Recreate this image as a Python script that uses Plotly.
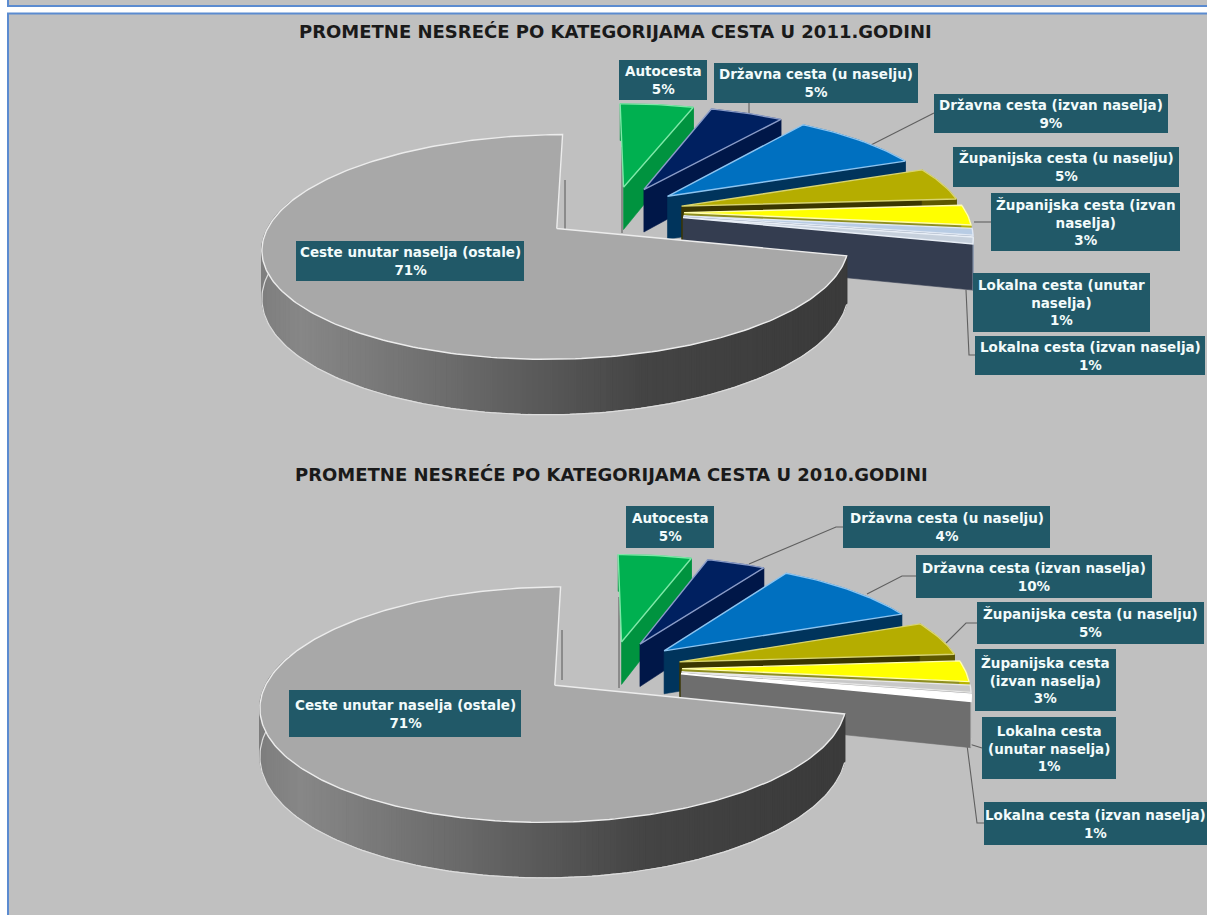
import math
import plotly.graph_objects as go

# Road categories, in drawing order round the pie
CATEGORIES = [
    "Autocesta",
    "Državna cesta (u naselju)",
    "Državna cesta (izvan naselja)",
    "Županijska cesta (u naselju)",
    "Županijska cesta (izvan naselja)",
    "Lokalna cesta (unutar naselja)",
    "Lokalna cesta (izvan naselja)",
    "Ceste unutar naselja (ostale)",
]
VALUES_2011 = [5, 5, 9, 5, 3, 1, 1, 71]
VALUES_2010 = [5, 4, 10, 5, 3, 1, 1, 71]
TITLE_2011 = "PROMETNE NESREĆE PO KATEGORIJAMA CESTA U 2011.GODINI"
TITLE_2010 = "PROMETNE NESREĆE PO KATEGORIJAMA CESTA U 2010.GODINI"

W, H = 1207, 915
BG = "#c0c0c0"
FRAME = "#5b8bd0"
BOX = "#215968"

TOP_2011 = ["#00b050", "#002060", "#0070c0", "#b5ad00", "#ffff00", "#b8cce4", "#c6d0dc", "#a8a8a8"]
WALL_2011 = ["#00933f", "#001748", "#00345c", "#3a3600", "#8f8f20", "#8a98ac", "#343d50", "#444444"]
RIM_2011 = ["#00933f", "#001748", "#00345c", "#5e5800", "#b8b400", "#9aa8bc", "#9aa8bc", "#444444"]
EDGE_2011 = ["#7ee8a8", "#8a9cc8", "#8cc4f0", "#d8d470", "#fffdb0", "#e0e8f4", "#e8eef6", "#ececec"]

TOP_2010 = ["#00b050", "#002060", "#0070c0", "#b5ad00", "#ffff00", "#c8c8c8", "#ffffff", "#a8a8a8"]
WALL_2010 = ["#00933f", "#001748", "#00345c", "#3a3600", "#8f8f20", "#a0a0a0", "#6e6e6e", "#444444"]
RIM_2010 = ["#00933f", "#001748", "#00345c", "#5e5800", "#b8b400", "#b0b0b0", "#d0d0d0", "#444444"]
EDGE_2010 = ["#7ee8a8", "#8a9cc8", "#8cc4f0", "#d8d470", "#fffdb0", "#e8e8e8", "#ffffff", "#ececec"]

# Projection of each pie: centre, radii, wall height, explode fraction, perspective
VIEW_2011 = dict(cx=613.5, cy=212, rx=282, ry=104, wall=44, explode=0.25, persp=0.16)
VIEW_2010 = dict(cx=611.5, cy=668, rx=282, ry=109, wall=44, explode=0.25, persp=0.16)
START_ANGLE = -0.5

# Label boxes: left, right, top, bottom
BOXES_2011 = [
    (619, 707, 60, 100), (714, 918, 63, 103), (934, 1168, 94, 133), (953, 1179, 147, 187),
    (991, 1180, 193, 251), (973, 1150, 273, 332), (975, 1205, 336, 375), (296, 524, 241, 281),
]
BOXES_2010 = [
    (626, 714, 506, 548), (843, 1050, 506, 548), (916, 1152, 555, 598), (977, 1204, 602, 644),
    (975, 1116, 649, 711), (982, 1116, 717, 779), (984, 1207, 802, 845), (289, 521, 690, 737),
]
LINES_2011 = [
    ["Državna cesta (u naselju)", ""],
    ["Državna cesta (izvan naselja)", ""],
    ["Županijska cesta (u naselju)", ""],
    ["Županijska cesta (izvan", "naselja)"],
    ["Lokalna cesta (unutar", "naselja)"],
    ["Lokalna cesta (izvan naselja)", ""],
]
LINES_2010 = [
    ["Državna cesta (u naselju)", ""],
    ["Državna cesta (izvan naselja)", ""],
    ["Županijska cesta (u naselju)", ""],
    ["Županijska cesta", "(izvan naselja)"],
    ["Lokalna cesta", "(unutar naselja)"],
    ["Lokalna cesta (izvan naselja)", ""],
]
LEADERS_2011 = [
    [(749, 103), (749, 116)],
    [(934, 113), (869, 146)],
    [(991, 222), (974, 222)],
    [(966, 290), (969, 355), (975, 355)],
    [(622, 147), (622, 233)],
    [(565, 180), (565, 230)],
]
LEADERS_2010 = [
    [(845, 527), (836, 527), (749, 564)],
    [(916, 576), (902, 576), (867, 594)],
    [(977, 623), (966, 623), (946, 643)],
    [(982, 748), (966, 743)],
    [(984, 823), (977, 823), (967, 745)],
    [(619, 597), (619, 688)],
    [(562, 630), (562, 680)],
]


def project(view, ex, ey, r, theta, depth=0.0):
    """Map a pie point (polar, exploded by ex/ey) to the page."""
    x = ex + r * math.sin(theta)
    y = ey + r * math.cos(theta)
    w = 1.0 / (1.0 + view["persp"] * y)
    return (view["cx"] + view["rx"] * x * w,
            view["cy"] - view["ry"] * y * w + view["wall"] * w * depth)


def polygon(fig, pts, fill, line=None, width=0.6):
    xs = [p[0] for p in pts] + [pts[0][0]]
    ys = [p[1] for p in pts] + [pts[0][1]]
    fig.add_trace(go.Scatter(
        x=xs, y=ys, mode="lines", fill="toself", fillcolor=fill,
        line=dict(color=line or fill, width=width),
        hoverinfo="skip", showlegend=False))


def rim_gray(x):
    """Horizontal shading of the large slice's outer wall."""
    stops = [(255, 125), (300, 135), (447, 108), (566, 84), (645, 68), (800, 60), (860, 58)]
    for (x0, v0), (x1, v1) in zip(stops, stops[1:]):
        if x <= x1:
            t = max(0.0, (x - x0) / (x1 - x0))
            v = round(v0 + (v1 - v0) * t)
            return f"rgb({v},{v},{v})"
    return "rgb(58,58,58)"


def draw_pie(fig, values, view, top, wall, rim, edge):
    total = sum(values)
    angle = START_ANGLE
    for i, value in enumerate(values):
        sweep = 360.0 * value / total
        a0, a1 = math.radians(angle), math.radians(angle + sweep)
        mid = (a0 + a1) / 2
        ex, ey = view["explode"] * math.sin(mid), view["explode"] * math.cos(mid)
        n = max(4, int(sweep))
        steps = [a0 + (a1 - a0) * k / n for k in range(n + 1)]
        arc_top = [project(view, ex, ey, 1, t) for t in steps]
        arc_low = [project(view, ex, ey, 1, t, 1) for t in steps]
        apex = project(view, ex, ey, 0, 0)
        apex_low = project(view, ex, ey, 0, 0, 1)

        if i < len(values) - 1:
            polygon(fig, [apex, arc_top[-1], arc_low[-1], apex_low], wall[i])
            polygon(fig, arc_top + arc_low[::-1], rim[i])
        else:
            # The large slice's outer wall carries a horizontal gradient
            visible = [k for k in range(n) if math.cos(steps[k]) <= 0.25]
            for k in visible:
                quad = [arc_top[k], arc_top[k + 1], arc_low[k + 1], arc_low[k]]
                polygon(fig, quad, rim_gray((arc_top[k][0] + arc_top[k + 1][0]) / 2), width=1.6)
            lip = [(p[0], p[1] + 1.5) for p in arc_low[visible[0]:visible[-1] + 2]]
            fig.add_trace(go.Scatter(
                x=[p[0] for p in lip], y=[p[1] for p in lip], mode="lines",
                line=dict(color="#dcdcdc", width=1.2), hoverinfo="skip", showlegend=False))
        polygon(fig, [apex] + arc_top, top[i], edge[i], 1.4)
        angle += sweep


def add_labels(fig, shapes, notes, values, boxes, lines):
    texts = [["Autocesta", ""]] + lines + [["Ceste unutar naselja (ostale)", ""]]
    for box, parts, value in zip(boxes, texts, values):
        x0, x1, y0, y1 = box
        shapes.append(dict(type="rect", xref="x", yref="y", x0=x0, x1=x1, y0=y0, y1=y1,
                           fillcolor=BOX, line=dict(width=0), layer="above"))
        body = "<br>".join(p for p in parts if p)
        notes.append(dict(
            x=(x0 + x1) / 2, y=(y0 + y1) / 2, xref="x", yref="y", showarrow=False,
            text=f"{body}<br>{value}%", align="center",
            font=dict(family="DejaVu Sans", size=13.5, color="#f2fbfb", weight=700)))


def add_leaders(fig, leaders):
    for path in leaders:
        fig.add_trace(go.Scatter(
            x=[p[0] for p in path], y=[p[1] for p in path], mode="lines",
            line=dict(color="#5f5f5f", width=1.1), hoverinfo="skip", showlegend=False))


fig = go.Figure()
add_leaders(fig, LEADERS_2011)
add_leaders(fig, LEADERS_2010)
draw_pie(fig, VALUES_2011, VIEW_2011, TOP_2011, WALL_2011, RIM_2011, EDGE_2011)
draw_pie(fig, VALUES_2010, VIEW_2010, TOP_2010, WALL_2010, RIM_2010, EDGE_2010)

shapes = [
    # Page frames: the strip of the previous panel and the panel holding both charts
    dict(type="rect", xref="x", yref="y", x0=8, x1=W + 5, y0=-5, y1=6,
         fillcolor=BG, line=dict(color=FRAME, width=2), layer="below"),
    dict(type="rect", xref="x", yref="y", x0=8, x1=W + 5, y0=13.5, y1=H + 5,
         fillcolor=BG, line=dict(color=FRAME, width=2), layer="below"),
]
notes = [
    dict(x=615, y=31, xref="x", yref="y", showarrow=False, text=TITLE_2011,
         font=dict(family="DejaVu Sans", size=18, color="#1a1a1a", weight=700)),
    dict(x=611, y=474, xref="x", yref="y", showarrow=False, text=TITLE_2010,
         font=dict(family="DejaVu Sans", size=18, color="#1a1a1a", weight=700)),
]
add_labels(fig, shapes, notes, VALUES_2011, BOXES_2011, LINES_2011)
add_labels(fig, shapes, notes, VALUES_2010, BOXES_2010, LINES_2010)

fig.update_layout(
    width=W, height=H, margin=dict(l=0, r=0, t=0, b=0),
    paper_bgcolor="white", plot_bgcolor="white", showlegend=False,
    shapes=shapes, annotations=notes,
    xaxis=dict(range=[0, W], visible=False, fixedrange=True),
    yaxis=dict(range=[H, 0], visible=False, fixedrange=True),
)
fig.write_html("out.html", config=dict(displayModeBar=False))
